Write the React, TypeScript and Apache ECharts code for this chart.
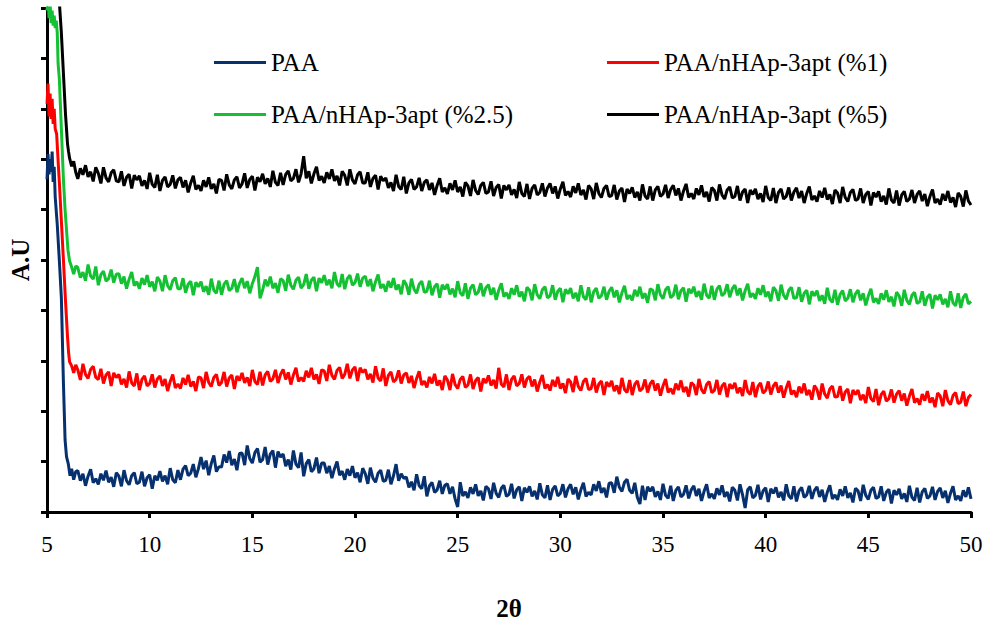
import React, { useEffect, useRef } from "react";
import * as echarts from "echarts";

// 2θ ticks
const xTicks = [5, 10, 15, 20, 25, 30, 35, 40, 45, 50];

const names = [
  "PAA",
  "PAA/nHAp-3apt (%1)",
  "PAA/nHAp-3apt (%2.5)",
  "PAA/nHAp-3apt (%5)",
];
const colors = ["#07306E", "#FF0000", "#14C132", "#000000"];

// steep low-angle part, [2θ, intensity]
const paaHead = [
  [5.0, 6.6], [5.05, 7.1], [5.1, 6.7], [5.15, 7.0], [5.2, 6.75], [5.25, 7.15], [5.3, 6.55],
  [5.35, 6.85], [5.4, 6.25], [5.5, 5.7], [5.6, 5.0], [5.7, 4.25], [5.8, 2.56], [5.88, 1.43],
  [5.95, 1.1], [6.04, 0.95], [6.12, 0.72], [6.2, 0.86], [6.3, 0.64], [6.4, 0.8],
];
const p1Head = [
  [5.0, 8.1], [5.05, 8.5], [5.1, 7.85], [5.15, 8.3], [5.2, 7.8], [5.25, 8.2], [5.3, 7.7],
  [5.35, 8.0], [5.4, 7.6], [5.47, 7.5], [5.55, 6.9], [5.6, 6.55], [5.7, 5.77], [5.8, 5.0],
  [5.9, 4.2], [6.0, 3.47], [6.05, 3.17], [6.1, 2.98], [6.2, 2.9], [6.3, 2.76], [6.4, 2.92],
];
const p25Head = [
  [5.0, 9.95], [5.05, 10.2], [5.1, 9.8], [5.15, 10.1], [5.2, 9.7], [5.25, 9.95], [5.3, 9.65],
  [5.35, 9.85], [5.4, 9.6], [5.45, 9.75], [5.5, 9.5], [5.54, 8.9], [5.6, 8.6], [5.7, 7.6],
  [5.8, 6.6], [5.88, 6.0], [5.95, 5.6], [6.02, 5.2], [6.1, 4.98], [6.2, 4.86], [6.3, 4.72], [6.4, 4.88],
];
const p5Head = [
  [5.0, 12.0], [5.3, 11.5], [5.5, 10.9], [5.55, 10.5], [5.62, 10.0], [5.7, 9.5], [5.8, 8.7],
  [5.9, 7.9], [6.0, 7.3], [6.05, 7.15], [6.1, 7.02], [6.2, 6.86], [6.3, 6.96], [6.4, 6.74],
];

// amorphous part, 2θ = 6.5 … 50 every 0.125° (one row per degree)
const tailStart = 6.5;
const tailStep = 0.125;

const paaTail = [
  0.82, 0.62, 0.76, 0.52, 0.71, 0.85, 0.58, 0.66,
  0.55, 0.76, 0.63, 0.82, 0.59, 0.69, 0.50, 0.78,
  0.71, 0.51, 0.83, 0.62, 0.54, 0.72, 0.78, 0.56,
  0.59, 0.80, 0.51, 0.68, 0.74, 0.46, 0.72, 0.63,
  0.81, 0.61, 0.72, 0.55, 0.87, 0.64, 0.58, 0.83,
  0.64, 0.85, 0.92, 0.72, 0.77, 0.95, 0.69, 0.86,
  1.09, 0.85, 1.02, 0.73, 0.96, 1.12, 0.80, 0.90,
  0.89, 1.14, 0.98, 1.21, 0.93, 1.05, 0.83, 1.16,
  1.17, 0.93, 1.32, 1.06, 0.97, 1.18, 1.26, 0.99,
  1.04, 1.29, 0.94, 1.15, 1.22, 0.88, 1.20, 1.09,
  1.15, 0.91, 1.04, 0.84, 1.22, 0.95, 0.88, 1.18,
  0.71, 0.96, 1.04, 0.80, 0.86, 1.08, 0.77, 0.97,
  0.97, 0.77, 0.91, 0.67, 0.86, 1.00, 0.73, 0.81,
  0.64, 0.85, 0.72, 0.91, 0.68, 0.78, 0.59, 0.87,
  0.76, 0.56, 0.88, 0.67, 0.59, 0.77, 0.83, 0.61,
  0.63, 0.84, 0.55, 0.72, 0.95, 0.62, 0.76, 0.67,
  0.69, 0.49, 0.60, 0.43, 0.75, 0.52, 0.46, 0.71,
  0.31, 0.52, 0.59, 0.39, 0.44, 0.62, 0.36, 0.53,
  0.56, 0.36, 0.50, 0.26, 0.10, 0.59, 0.32, 0.40,
  0.28, 0.49, 0.36, 0.55, 0.32, 0.42, 0.23, 0.51,
  0.46, 0.26, 0.58, 0.37, 0.29, 0.47, 0.53, 0.31,
  0.35, 0.56, 0.27, 0.44, 0.50, 0.22, 0.48, 0.39,
  0.51, 0.31, 0.42, 0.25, 0.57, 0.34, 0.28, 0.53,
  0.24, 0.45, 0.52, 0.32, 0.37, 0.55, 0.29, 0.46,
  0.55, 0.35, 0.49, 0.25, 0.44, 0.58, 0.31, 0.39,
  0.34, 0.55, 0.42, 0.61, 0.38, 0.48, 0.29, 0.57,
  0.58, 0.38, 0.70, 0.49, 0.41, 0.59, 0.65, 0.43,
  0.37, 0.58, 0.29, 0.16, 0.52, 0.24, 0.50, 0.41,
  0.50, 0.30, 0.41, 0.24, 0.56, 0.33, 0.27, 0.52,
  0.22, 0.43, 0.50, 0.30, 0.35, 0.53, 0.27, 0.44,
  0.52, 0.32, 0.46, 0.22, 0.41, 0.55, 0.28, 0.36,
  0.26, 0.47, 0.34, 0.53, 0.30, 0.40, 0.21, 0.49,
  0.43, 0.23, 0.55, 0.34, 0.08, 0.44, 0.50, 0.28,
  0.33, 0.54, 0.25, 0.42, 0.48, 0.20, 0.46, 0.37,
  0.49, 0.29, 0.40, 0.23, 0.55, 0.32, 0.26, 0.51,
  0.21, 0.42, 0.49, 0.29, 0.34, 0.52, 0.26, 0.43,
  0.50, 0.30, 0.44, 0.20, 0.39, 0.53, 0.26, 0.34,
  0.24, 0.45, 0.32, 0.51, 0.28, 0.38, 0.19, 0.47,
  0.42, 0.22, 0.54, 0.33, 0.25, 0.43, 0.49, 0.27,
  0.30, 0.51, 0.22, 0.39, 0.45, 0.17, 0.43, 0.34,
  0.46, 0.26, 0.37, 0.20, 0.52, 0.29, 0.23, 0.48,
  0.19, 0.40, 0.47, 0.27, 0.32, 0.50, 0.24, 0.41,
  0.48, 0.28, 0.42, 0.18, 0.37, 0.51, 0.24, 0.32,
  0.22, 0.43, 0.30, 0.49, 0.26,
];
const p1Tail = [
  2.82, 2.62, 2.94, 2.73, 2.65, 2.83, 2.89, 2.67,
  2.63, 2.84, 2.55, 2.72, 2.78, 2.50, 2.76, 2.67,
  2.73, 2.53, 2.64, 2.47, 2.79, 2.56, 2.50, 2.75,
  2.42, 2.63, 2.70, 2.50, 2.55, 2.73, 2.47, 2.64,
  2.70, 2.50, 2.64, 2.40, 2.59, 2.73, 2.46, 2.54,
  2.45, 2.66, 2.53, 2.72, 2.49, 2.59, 2.40, 2.68,
  2.66, 2.46, 2.78, 2.57, 2.49, 2.67, 2.73, 2.51,
  2.57, 2.78, 2.49, 2.66, 2.72, 2.44, 2.70, 2.61,
  2.76, 2.56, 2.67, 2.50, 2.82, 2.59, 2.53, 2.78,
  2.51, 2.72, 2.79, 2.59, 2.64, 2.82, 2.56, 2.73,
  2.83, 2.63, 2.77, 2.53, 2.72, 2.86, 2.59, 2.67,
  2.59, 2.80, 2.67, 2.86, 2.63, 2.73, 2.54, 2.82,
  2.80, 2.60, 2.92, 2.71, 2.63, 2.81, 2.87, 2.65,
  2.73, 2.94, 2.65, 2.82, 2.88, 2.60, 2.86, 2.77,
  2.83, 2.63, 2.74, 2.57, 2.89, 2.66, 2.60, 2.85,
  2.50, 2.71, 2.78, 2.58, 2.63, 2.81, 2.55, 2.72,
  2.76, 2.56, 2.70, 2.46, 2.65, 2.79, 2.52, 2.60,
  2.47, 2.68, 2.55, 2.74, 2.51, 2.61, 2.42, 2.70,
  2.62, 2.42, 2.74, 2.53, 2.45, 2.63, 2.69, 2.47,
  2.52, 2.73, 2.44, 2.61, 2.67, 2.39, 2.65, 2.56,
  2.71, 2.51, 2.62, 2.45, 2.86, 2.54, 2.48, 2.73,
  2.42, 2.63, 2.70, 2.50, 2.55, 2.73, 2.47, 2.64,
  2.69, 2.49, 2.63, 2.39, 2.58, 2.72, 2.45, 2.53,
  2.41, 2.62, 2.49, 2.68, 2.45, 2.55, 2.36, 2.64,
  2.58, 2.38, 2.70, 2.49, 2.41, 2.59, 2.65, 2.43,
  2.45, 2.66, 2.37, 2.54, 2.60, 2.32, 2.58, 2.49,
  2.60, 2.40, 2.51, 2.34, 2.66, 2.43, 2.37, 2.62,
  2.32, 2.53, 2.60, 2.40, 2.45, 2.63, 2.37, 2.54,
  2.61, 2.41, 2.55, 2.31, 2.50, 2.64, 2.37, 2.45,
  2.34, 2.55, 2.42, 2.61, 2.38, 2.48, 2.29, 2.57,
  2.52, 2.32, 2.64, 2.43, 2.35, 2.53, 2.59, 2.37,
  2.41, 2.62, 2.33, 2.50, 2.56, 2.28, 2.54, 2.45,
  2.56, 2.36, 2.47, 2.30, 2.62, 2.39, 2.33, 2.58,
  2.28, 2.49, 2.56, 2.36, 2.41, 2.59, 2.33, 2.50,
  2.57, 2.37, 2.51, 2.27, 2.46, 2.60, 2.33, 2.41,
  2.28, 2.49, 2.36, 2.55, 2.32, 2.42, 2.23, 2.51,
  2.43, 2.23, 2.55, 2.34, 2.26, 2.44, 2.50, 2.28,
  2.29, 2.50, 2.21, 2.38, 2.44, 2.16, 2.42, 2.33,
  2.42, 2.22, 2.33, 2.16, 2.48, 2.25, 2.19, 2.44,
  2.12, 2.33, 2.40, 2.20, 2.25, 2.43, 2.17, 2.34,
  2.41, 2.21, 2.35, 2.11, 2.30, 2.44, 2.17, 2.25,
  2.13, 2.34, 2.21, 2.40, 2.17, 2.27, 2.08, 2.36,
  2.30, 2.10, 2.42, 2.21, 2.13, 2.31, 2.37, 2.15,
  2.18, 2.39, 2.10, 2.27, 2.33,
];
const p25Tail = [
  4.85, 4.65, 4.76, 4.59, 4.91, 4.68, 4.62, 4.87,
  4.50, 4.71, 4.78, 4.58, 4.63, 4.81, 4.55, 4.72,
  4.73, 4.53, 4.67, 4.43, 4.62, 4.76, 4.49, 4.57,
  4.43, 4.64, 4.51, 4.70, 4.47, 4.57, 4.38, 4.66,
  4.58, 4.38, 4.70, 4.49, 4.41, 4.59, 4.65, 4.43,
  4.43, 4.64, 4.35, 4.52, 4.58, 4.30, 4.56, 4.47,
  4.57, 4.37, 4.48, 4.31, 4.63, 4.40, 4.34, 4.59,
  4.31, 4.52, 4.59, 4.39, 4.44, 4.62, 4.36, 4.53,
  4.64, 4.44, 4.58, 4.34, 4.53, 4.67, 4.86, 4.24,
  4.40, 4.61, 4.48, 4.67, 4.44, 4.54, 4.35, 4.63,
  4.59, 4.39, 4.71, 4.50, 4.42, 4.60, 4.66, 4.44,
  4.51, 4.72, 4.43, 4.60, 4.66, 4.38, 4.64, 4.55,
  4.70, 4.50, 4.61, 4.44, 4.76, 4.53, 4.47, 4.72,
  4.42, 4.63, 4.70, 4.50, 4.55, 4.73, 4.47, 4.64,
  4.68, 4.48, 4.62, 4.38, 4.57, 4.71, 4.44, 4.52,
  4.37, 4.58, 4.45, 4.64, 4.41, 4.51, 4.32, 4.60,
  4.51, 4.31, 4.63, 4.42, 4.34, 4.52, 4.58, 4.36,
  4.38, 4.59, 4.30, 4.47, 4.53, 4.25, 4.51, 4.42,
  4.52, 4.32, 4.43, 4.26, 4.58, 4.35, 4.29, 4.54,
  4.23, 4.44, 4.51, 4.31, 4.36, 4.54, 4.28, 4.45,
  4.51, 4.31, 4.45, 4.21, 4.40, 4.54, 4.27, 4.35,
  4.23, 4.44, 4.31, 4.50, 4.27, 4.37, 4.18, 4.46,
  4.40, 4.20, 4.52, 4.31, 4.23, 4.41, 4.47, 4.25,
  4.29, 4.50, 4.21, 4.38, 4.44, 4.16, 4.42, 4.33,
  4.44, 4.24, 4.35, 4.18, 4.50, 4.27, 4.21, 4.46,
  4.16, 4.37, 4.44, 4.24, 4.29, 4.47, 4.21, 4.38,
  4.46, 4.26, 4.40, 4.16, 4.35, 4.49, 4.22, 4.30,
  4.20, 4.41, 4.28, 4.47, 4.24, 4.34, 4.15, 4.43,
  4.40, 4.20, 4.52, 4.31, 4.23, 4.41, 4.47, 4.25,
  4.30, 4.51, 4.22, 4.39, 4.45, 4.17, 4.43, 4.34,
  4.47, 4.27, 4.38, 4.21, 4.53, 4.30, 4.24, 4.49,
  4.21, 4.42, 4.49, 4.29, 4.34, 4.52, 4.26, 4.43,
  4.50, 4.30, 4.44, 4.20, 4.39, 4.53, 4.26, 4.34,
  4.23, 4.44, 4.31, 4.50, 4.27, 4.37, 4.18, 4.46,
  4.39, 4.19, 4.51, 4.30, 4.22, 4.40, 4.46, 4.24,
  4.25, 4.46, 4.17, 4.34, 4.40, 4.12, 4.38, 4.29,
  4.39, 4.19, 4.30, 4.13, 4.45, 4.22, 4.16, 4.41,
  4.11, 4.32, 4.39, 4.19, 4.24, 4.42, 4.16, 4.33,
  4.40, 4.20, 4.34, 4.10, 4.29, 4.43, 4.16, 4.24,
  4.13, 4.34, 4.21, 4.40, 4.17, 4.27, 4.08, 4.36,
  4.29, 4.09, 4.41, 4.20, 4.12, 4.30, 4.36, 4.14,
  4.17, 4.38, 4.09, 4.26, 4.32, 4.04, 4.30, 4.21,
  4.32, 4.12, 4.23, 4.06, 4.38, 4.15, 4.09, 4.34,
  4.05, 4.26, 4.33, 4.13, 4.18,
];
const p5Tail = [
  6.61, 6.82, 6.69, 6.88, 6.65, 6.75, 6.56, 6.84,
  6.72, 6.52, 6.84, 6.63, 6.55, 6.73, 6.79, 6.57,
  6.55, 6.76, 6.47, 6.64, 6.70, 6.42, 6.68, 6.59,
  6.67, 6.47, 6.58, 6.41, 6.73, 6.50, 6.44, 6.69,
  6.37, 6.58, 6.65, 6.45, 6.50, 6.68, 6.42, 6.59,
  6.64, 6.44, 6.58, 6.34, 6.53, 6.67, 6.40, 6.48,
  6.37, 6.58, 6.45, 6.64, 6.41, 6.51, 6.32, 6.60,
  6.58, 6.38, 6.70, 6.49, 6.41, 6.59, 6.65, 6.43,
  6.51, 6.72, 6.43, 6.60, 6.66, 6.38, 6.64, 6.55,
  6.71, 6.51, 6.62, 6.45, 6.77, 6.54, 6.48, 6.73,
  6.49, 6.70, 6.77, 6.57, 6.62, 6.80, 6.54, 6.71,
  7.06, 6.62, 6.76, 6.52, 6.71, 6.85, 6.58, 6.66,
  6.53, 6.74, 6.61, 6.80, 6.57, 6.67, 6.48, 6.76,
  6.68, 6.48, 6.80, 6.59, 6.51, 6.69, 6.75, 6.53,
  6.53, 6.74, 6.45, 6.62, 6.68, 6.40, 6.66, 6.57,
  6.63, 6.43, 6.54, 6.37, 6.69, 6.46, 6.40, 6.65,
  6.32, 6.53, 6.60, 6.40, 6.45, 6.63, 6.37, 6.54,
  6.59, 6.39, 6.53, 6.29, 6.48, 6.62, 6.35, 6.43,
  6.31, 6.52, 6.39, 6.58, 6.35, 6.45, 6.26, 6.54,
  6.47, 6.27, 6.59, 6.38, 6.30, 6.48, 6.54, 6.32,
  6.35, 6.56, 6.27, 6.44, 6.50, 6.22, 6.48, 6.39,
  6.49, 6.29, 6.40, 6.23, 6.55, 6.32, 6.26, 6.51,
  6.21, 6.42, 6.49, 6.29, 6.34, 6.52, 6.26, 6.43,
  6.52, 6.32, 6.46, 6.22, 6.41, 6.55, 6.28, 6.36,
  6.25, 6.46, 6.33, 6.52, 6.29, 6.39, 6.20, 6.48,
  6.41, 6.21, 6.53, 6.32, 6.24, 6.42, 6.48, 6.26,
  6.28, 6.49, 6.20, 6.37, 6.43, 6.15, 6.41, 6.32,
  6.44, 6.24, 6.35, 6.18, 6.50, 6.27, 6.21, 6.46,
  6.18, 6.39, 6.46, 6.26, 6.31, 6.49, 6.23, 6.40,
  6.48, 6.28, 6.42, 6.18, 6.37, 6.51, 6.24, 6.32,
  6.21, 6.42, 6.29, 6.48, 6.25, 6.35, 6.16, 6.44,
  6.38, 6.18, 6.50, 6.29, 6.21, 6.39, 6.45, 6.23,
  6.26, 6.47, 6.18, 6.35, 6.41, 6.13, 6.39, 6.30,
  6.41, 6.21, 6.32, 6.15, 6.47, 6.24, 6.18, 6.43,
  6.13, 6.34, 6.41, 6.21, 6.26, 6.44, 6.18, 6.35,
  6.43, 6.23, 6.37, 6.13, 6.32, 6.46, 6.19, 6.27,
  6.16, 6.37, 6.24, 6.43, 6.20, 6.30, 6.11, 6.39,
  6.33, 6.13, 6.45, 6.24, 6.16, 6.34, 6.40, 6.18,
  6.21, 6.42, 6.13, 6.30, 6.36, 6.08, 6.34, 6.25,
  6.36, 6.16, 6.27, 6.10, 6.42, 6.19, 6.13, 6.38,
  6.08, 6.29, 6.36, 6.16, 6.21, 6.39, 6.13, 6.30,
  6.37, 6.17, 6.31, 6.07, 6.26, 6.40, 6.13, 6.21,
  6.10, 6.31, 6.18, 6.37, 6.14, 6.24, 6.05, 6.33,
  6.26, 6.06, 6.38, 6.17, 6.09,
];

const heads = [paaHead, p1Head, p25Head, p5Head];
const tails = [paaTail, p1Tail, p25Tail, p5Tail];

const FONT = "'Liberation Serif', 'Times New Roman', serif";

function buildSeries(i: number) {
  const tail = tails[i].map((v, k) => [tailStart + k * tailStep, v]);
  return [...heads[i], ...tail];
}

export default function App() {
  const ref = useRef<HTMLDivElement>(null);
  useEffect(() => {
    if (!ref.current) return;
    const chart = echarts.init(ref.current, null, { renderer: "svg" });
    const legendPos = [
      { left: 214, top: 50 },
      { left: 607, top: 50 },
      { left: 214, top: 102 },
      { left: 607, top: 102 },
    ];
    chart.setOption({
      animation: false,
      backgroundColor: "#ffffff",
      grid: { left: 47, right: 21, top: 8, bottom: 116, containLabel: false },
      legend: names.map((n, i) => ({
        data: [n],
        left: legendPos[i].left,
        top: legendPos[i].top,
        padding: 0,
        icon: "rect",
        itemWidth: 52,
        itemHeight: 3,
        selectedMode: false,
        textStyle: { fontFamily: FONT, fontSize: 25, color: "#000" },
      })),
      xAxis: {
        type: "value",
        min: 5,
        max: 50,
        interval: 5,
        name: "2θ",
        nameLocation: "middle",
        nameGap: 84,
        nameTextStyle: { fontFamily: FONT, fontSize: 25, fontWeight: "bold", color: "#000" },
        axisLine: { lineStyle: { color: "#000", width: 3 } },
        axisTick: { show: true, inside: false, length: 6, lineStyle: { color: "#000", width: 3 } },
        axisLabel: {
          fontFamily: FONT,
          fontSize: 23,
          color: "#000",
          margin: 21,
          formatter: (v: number) => (xTicks.includes(v) ? String(v) : ""),
        },
        splitLine: { show: false },
      },
      yAxis: {
        type: "value",
        min: 0,
        max: 10,
        interval: 1,
        name: "A.U",
        nameLocation: "middle",
        nameRotate: 90,
        nameGap: 14,
        nameTextStyle: { fontFamily: FONT, fontSize: 25, fontWeight: "bold", color: "#000" },
        axisLine: { show: true, lineStyle: { color: "#000", width: 3 } },
        axisTick: { show: true, inside: false, length: 6, lineStyle: { color: "#000", width: 3 } },
        axisLabel: { show: false },
        splitLine: { show: false },
      },
      series: names.map((n, i) => ({
        name: n,
        type: "line",
        data: buildSeries(i),
        showSymbol: false,
        symbol: "none",
        clip: true,
        color: colors[i],
        lineStyle: { color: colors[i], width: 3 },
      })),
    });
    return () => chart.dispose();
  }, []);
  return (
    <div
      ref={ref}
      style={{ position: "fixed", left: 0, top: 0, width: 992, height: 628, background: "#fff" }}
    />
  );
}
